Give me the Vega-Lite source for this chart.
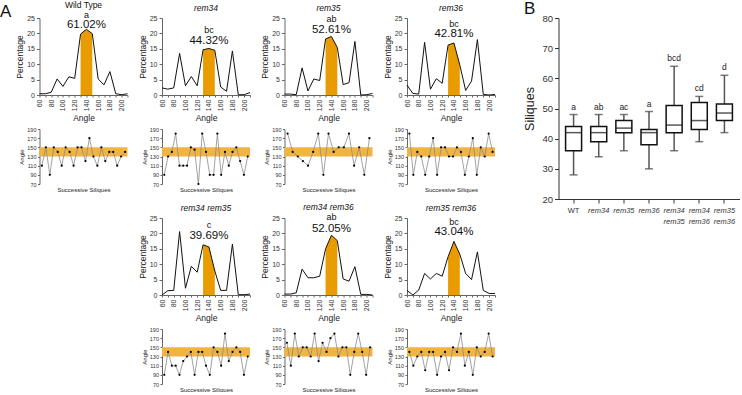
{
  "$schema": "https://vega.github.io/schema/vega-lite/v6.json",
  "padding": 0,
  "background": "white",
  "columns": 6,
  "bounds": "flush",
  "align": "none",
  "spacing": {"row": 34, "column": 34.5},
  "config": {
    "font": "Liberation Sans",
    "view": {"stroke": null},
    "axis": {"grid": false, "domainColor": "#666", "tickColor": "#666", "labelColor": "#333", "titleColor": "#222", "titleFontWeight": "normal", "labelOverlap": false},
    "title": {"fontSize": 8.5, "fontWeight": "normal", "color": "#111", "offset": 1.5, "fontStyle": "italic"}
  },
  "datasets": {
    "hist": [
      {"g":"WT","a":60,"p":0.4},{"g":"WT","a":70,"p":0.4},{"g":"WT","a":80,"p":0.9},{"g":"WT","a":90,"p":5.2},{"g":"WT","a":100,"p":2.8},{"g":"WT","a":110,"p":5.9},{"g":"WT","a":120,"p":5.4},{"g":"WT","a":130,"p":19.8},{"g":"WT","a":140,"p":21.32},{"g":"WT","a":150,"p":19.9},{"g":"WT","a":160,"p":5.2},{"g":"WT","a":170,"p":3.3},{"g":"WT","a":180,"p":7.6},{"g":"WT","a":190,"p":0.4},{"g":"WT","a":200,"p":0.1},{"g":"WT","a":210,"p":0.4},
      {"g":"34","a":60,"p":2.3},{"g":"34","a":70,"p":1.9},{"g":"34","a":80,"p":2.3},{"g":"34","a":90,"p":13.5},{"g":"34","a":100,"p":3.0},{"g":"34","a":110,"p":6.0},{"g":"34","a":120,"p":3.0},{"g":"34","a":130,"p":14.7},{"g":"34","a":140,"p":15.1},{"g":"34","a":150,"p":14.52},{"g":"34","a":160,"p":2.6},{"g":"34","a":170,"p":1.2},{"g":"34","a":180,"p":14.3},{"g":"34","a":190,"p":0.1},{"g":"34","a":200,"p":0.1},{"g":"34","a":210,"p":0.8},
      {"g":"35","a":60,"p":0.3},{"g":"35","a":70,"p":0.3},{"g":"35","a":80,"p":0.1},{"g":"35","a":90,"p":8.8},{"g":"35","a":100,"p":1.3},{"g":"35","a":110,"p":5.2},{"g":"35","a":120,"p":4.7},{"g":"35","a":130,"p":18.2},{"g":"35","a":140,"p":19.0},{"g":"35","a":150,"p":15.41},{"g":"35","a":160,"p":3.4},{"g":"35","a":170,"p":4.0},{"g":"35","a":180,"p":17.4},{"g":"35","a":190,"p":0.0},{"g":"35","a":200,"p":0.1},{"g":"35","a":210,"p":0.5},
      {"g":"36","a":60,"p":3.2},{"g":"36","a":70,"p":0.5},{"g":"36","a":80,"p":0.3},{"g":"36","a":90,"p":17.1},{"g":"36","a":100,"p":1.9},{"g":"36","a":110,"p":5.3},{"g":"36","a":120,"p":3.8},{"g":"36","a":130,"p":16.2},{"g":"36","a":140,"p":16.9},{"g":"36","a":150,"p":9.71},{"g":"36","a":160,"p":1.5},{"g":"36","a":170,"p":4.5},{"g":"36","a":180,"p":18.0},{"g":"36","a":190,"p":0.2},{"g":"36","a":200,"p":0.0},{"g":"36","a":210,"p":0.2},
      {"g":"3435","a":60,"p":0.0},{"g":"3435","a":70,"p":1.4},{"g":"3435","a":80,"p":1.5},{"g":"3435","a":90,"p":20.6},{"g":"3435","a":100,"p":2.2},{"g":"3435","a":110,"p":9.3},{"g":"3435","a":120,"p":7.4},{"g":"3435","a":130,"p":16.3},{"g":"3435","a":140,"p":15.6},{"g":"3435","a":150,"p":7.79},{"g":"3435","a":160,"p":1.5},{"g":"3435","a":170,"p":1.5},{"g":"3435","a":180,"p":16.5},{"g":"3435","a":190,"p":0.1},{"g":"3435","a":200,"p":0.1},{"g":"3435","a":210,"p":0.3},
      {"g":"3436","a":60,"p":0.3},{"g":"3436","a":70,"p":0.3},{"g":"3436","a":80,"p":0.7},{"g":"3436","a":90,"p":8.4},{"g":"3436","a":100,"p":5.6},{"g":"3436","a":110,"p":5.6},{"g":"3436","a":120,"p":6.1},{"g":"3436","a":130,"p":15.0},{"g":"3436","a":140,"p":19.4},{"g":"3436","a":150,"p":17.65},{"g":"3436","a":160,"p":5.2},{"g":"3436","a":170,"p":4.5},{"g":"3436","a":180,"p":9.2},{"g":"3436","a":190,"p":0.2},{"g":"3436","a":200,"p":0.2},{"g":"3436","a":210,"p":0.0},
      {"g":"3536","a":60,"p":1.5},{"g":"3536","a":70,"p":0.0},{"g":"3536","a":80,"p":1.6},{"g":"3536","a":90,"p":7.0},{"g":"3536","a":100,"p":5.2},{"g":"3536","a":110,"p":7.0},{"g":"3536","a":120,"p":6.1},{"g":"3536","a":130,"p":12.4},{"g":"3536","a":140,"p":17.4},{"g":"3536","a":150,"p":13.24},{"g":"3536","a":160,"p":7.0},{"g":"3536","a":170,"p":5.0},{"g":"3536","a":180,"p":14.0},{"g":"3536","a":190,"p":1.5},{"g":"3536","a":200,"p":0.5},{"g":"3536","a":210,"p":0.5}
    ],
    "lab": [
      {"g":"WT","k":"l","a":140,"p":26.0,"t":"a"},{"g":"WT","k":"v","a":140,"p":22.6,"t":"61.02%"},
      {"g":"34","k":"l","a":140,"p":21.0,"t":"bc"},{"g":"34","k":"v","a":140,"p":17.5,"t":"44.32%"},
      {"g":"35","k":"l","a":140,"p":24.7,"t":"ab"},{"g":"35","k":"v","a":140,"p":21.2,"t":"52.61%"},
      {"g":"36","k":"l","a":140,"p":23.2,"t":"bc"},{"g":"36","k":"v","a":140,"p":19.7,"t":"42.81%"},
      {"g":"3435","k":"l","a":140,"p":22.8,"t":"c"},{"g":"3435","k":"v","a":140,"p":19.3,"t":"39.69%"},
      {"g":"3436","k":"l","a":140,"p":25.3,"t":"ab"},{"g":"3436","k":"v","a":140,"p":21.5,"t":"52.05%"},
      {"g":"3536","k":"l","a":140,"p":23.8,"t":"bc"},{"g":"3536","k":"v","a":140,"p":20.3,"t":"43.04%"}
    ],
    "scat": [
      {"g":"WT","i":1,"v":110},{"g":"WT","i":2,"v":150},{"g":"WT","i":3,"v":90},{"g":"WT","i":4,"v":150},{"g":"WT","i":5,"v":140},{"g":"WT","i":6,"v":110},{"g":"WT","i":7,"v":150},{"g":"WT","i":8,"v":140},{"g":"WT","i":9,"v":110},{"g":"WT","i":10,"v":150},{"g":"WT","i":11,"v":150},{"g":"WT","i":12,"v":120},{"g":"WT","i":13,"v":170},{"g":"WT","i":14,"v":130},{"g":"WT","i":15,"v":110},{"g":"WT","i":16,"v":150},{"g":"WT","i":17,"v":120},{"g":"WT","i":18,"v":140},{"g":"WT","i":19,"v":140},{"g":"WT","i":20,"v":110},{"g":"WT","i":21,"v":130},{"g":"WT","i":22,"v":140},
      {"g":"34","i":1,"v":90},{"g":"34","i":2,"v":130},{"g":"34","i":3,"v":140},{"g":"34","i":4,"v":180},{"g":"34","i":5,"v":110},{"g":"34","i":6,"v":110},{"g":"34","i":7,"v":110},{"g":"34","i":8,"v":150},{"g":"34","i":9,"v":145},{"g":"34","i":10,"v":70},{"g":"34","i":11,"v":180},{"g":"34","i":12,"v":140},{"g":"34","i":13,"v":90},{"g":"34","i":14,"v":90},{"g":"34","i":15,"v":180},{"g":"34","i":16,"v":90},{"g":"34","i":17,"v":140},{"g":"34","i":18,"v":110},{"g":"34","i":19,"v":140},{"g":"34","i":20,"v":150},{"g":"34","i":21,"v":120},{"g":"34","i":22,"v":90},{"g":"34","i":23,"v":130},
      {"g":"35","i":1,"v":180},{"g":"35","i":2,"v":140},{"g":"35","i":3,"v":130},{"g":"35","i":4,"v":120},{"g":"35","i":5,"v":110},{"g":"35","i":6,"v":140},{"g":"35","i":7,"v":180},{"g":"35","i":8,"v":90},{"g":"35","i":9,"v":180},{"g":"35","i":10,"v":140},{"g":"35","i":11,"v":150},{"g":"35","i":12,"v":150},{"g":"35","i":13,"v":180},{"g":"35","i":14,"v":110},{"g":"35","i":15,"v":150},{"g":"35","i":16,"v":90},{"g":"35","i":17,"v":170},
      {"g":"36","i":1,"v":180},{"g":"36","i":2,"v":90},{"g":"36","i":3,"v":140},{"g":"36","i":4,"v":130},{"g":"36","i":5,"v":90},{"g":"36","i":6,"v":130},{"g":"36","i":7,"v":170},{"g":"36","i":8,"v":90},{"g":"36","i":9,"v":150},{"g":"36","i":10,"v":150},{"g":"36","i":11,"v":130},{"g":"36","i":12,"v":130},{"g":"36","i":13,"v":150},{"g":"36","i":14,"v":140},{"g":"36","i":15,"v":90},{"g":"36","i":16,"v":130},{"g":"36","i":17,"v":170},{"g":"36","i":18,"v":90},{"g":"36","i":19,"v":150},{"g":"36","i":20,"v":130},{"g":"36","i":21,"v":180},{"g":"36","i":22,"v":140},
      {"g":"3435","i":1,"v":90},{"g":"3435","i":2,"v":140},{"g":"3435","i":3,"v":110},{"g":"3435","i":4,"v":110},{"g":"3435","i":5,"v":90},{"g":"3435","i":6,"v":120},{"g":"3435","i":7,"v":130},{"g":"3435","i":8,"v":140},{"g":"3435","i":9,"v":90},{"g":"3435","i":10,"v":140},{"g":"3435","i":11,"v":140},{"g":"3435","i":12,"v":110},{"g":"3435","i":13,"v":90},{"g":"3435","i":14,"v":150},{"g":"3435","i":15,"v":140},{"g":"3435","i":16,"v":110},{"g":"3435","i":17,"v":180},{"g":"3435","i":18,"v":120},{"g":"3435","i":19,"v":140},{"g":"3435","i":20,"v":150},{"g":"3435","i":21,"v":140},{"g":"3435","i":22,"v":90},{"g":"3435","i":23,"v":130},
      {"g":"3436","i":1,"v":160},{"g":"3436","i":2,"v":110},{"g":"3436","i":3,"v":180},{"g":"3436","i":4,"v":130},{"g":"3436","i":5,"v":150},{"g":"3436","i":6,"v":150},{"g":"3436","i":7,"v":130},{"g":"3436","i":8,"v":180},{"g":"3436","i":9,"v":120},{"g":"3436","i":10,"v":160},{"g":"3436","i":11,"v":140},{"g":"3436","i":12,"v":170},{"g":"3436","i":13,"v":180},{"g":"3436","i":14,"v":130},{"g":"3436","i":15,"v":150},{"g":"3436","i":16,"v":150},{"g":"3436","i":17,"v":90},{"g":"3436","i":18,"v":140},{"g":"3436","i":19,"v":180},{"g":"3436","i":20,"v":140},{"g":"3436","i":21,"v":90},{"g":"3436","i":22,"v":150},
      {"g":"3536","i":1,"v":140},{"g":"3536","i":2,"v":110},{"g":"3536","i":3,"v":130},{"g":"3536","i":4,"v":140},{"g":"3536","i":5,"v":100},{"g":"3536","i":6,"v":140},{"g":"3536","i":7,"v":140},{"g":"3536","i":8,"v":90},{"g":"3536","i":9,"v":130},{"g":"3536","i":10,"v":140},{"g":"3536","i":11,"v":100},{"g":"3536","i":12,"v":150},{"g":"3536","i":13,"v":140},{"g":"3536","i":14,"v":180},{"g":"3536","i":15,"v":110},{"g":"3536","i":16,"v":140},{"g":"3536","i":17,"v":90},{"g":"3536","i":18,"v":150},{"g":"3536","i":19,"v":130},{"g":"3536","i":20,"v":140},{"g":"3536","i":21,"v":180},{"g":"3536","i":22,"v":130}
    ],
    "box": [
      {"g":"WT","min":28,"q1":36,"med":42,"q3":44,"max":48,"lab":"a"},
      {"g":"rem34","min":34,"q1":39,"med":42,"q3":44,"max":48,"lab":"ab"},
      {"g":"rem35","min":36,"q1":42,"med":43.5,"q3":46,"max":48,"lab":"ac"},
      {"g":"rem36","min":30,"q1":38,"med":42,"q3":43,"max":49,"lab":"a"},
      {"g":"rem34 rem35","min":36,"q1":42,"med":44.5,"q3":51,"max":64,"lab":"bcd"},
      {"g":"rem34 rem36","min":39,"q1":43,"med":46,"q3":52,"max":54,"lab":"cd"},
      {"g":"rem35 rem36","min":42,"q1":46,"med":48.5,"q3":51.5,"max":61,"lab":"d"}
    ]
  },
  "concat": [
    {"width": 4.5, "height": 1, "title": {"text": "A", "anchor": "start", "fontSize": 17, "fontStyle": "normal", "offset": -3}, "data": {"values": []}, "mark": "text", "encoding": {}},
    {
      "width": 88, "height": 77,
      "title": {"text": "Wild Type", "fontStyle": "normal"},
      "encoding": {
        "x": {"field": "a", "type": "quantitative", "scale": {"domain": [60, 210]}, "axis": {"title": "Angle", "values": [60,70,80,90,100,110,120,130,140,150,160,170,180,190,200,210], "labelExpr": "datum.value % 20 == 0 && datum.value < 210 ? datum.label : ''", "labelAngle": -90, "labelFontSize": 7, "labelPadding": 2, "tickSize": 2, "titleFontSize": 8.5, "titlePadding": 3}},
        "y": {"field": "p", "type": "quantitative", "scale": {"domain": [0, 25]}, "axis": {"title": "Percentage", "values": [0,5,10,15,20,25], "tickSize": 3, "labelFontSize": 7, "labelPadding": 2, "titleFontSize": 8.5, "titlePadding": 2}}
      },
      "layer": [
        {"data": {"name": "hist"}, "transform": [{"filter": "datum.g == 'WT' && datum.a >= 130 && datum.a <= 150"}], "mark": {"type": "area", "color": "#e89c00"}},
        {"data": {"name": "hist"}, "transform": [{"filter": "datum.g == 'WT'"}], "mark": {"type": "line", "color": "#111", "strokeWidth": 1}},
        {"data": {"name": "lab"}, "transform": [{"filter": "datum.g == 'WT' && datum.k == 'l'"}], "mark": {"type": "text", "fontSize": 9, "color": "#111"}, "encoding": {"text": {"field": "t"}}},
        {"data": {"name": "lab"}, "transform": [{"filter": "datum.g == 'WT' && datum.k == 'v'"}], "mark": {"type": "text", "fontSize": 11.5, "color": "#111"}, "encoding": {"text": {"field": "t"}}}
      ]
    },
    {
      "width": 88, "height": 77,
      "title": {"text": "rem34"},
      "encoding": {
        "x": {"field": "a", "type": "quantitative", "scale": {"domain": [60, 210]}, "axis": {"title": "Angle", "values": [60,70,80,90,100,110,120,130,140,150,160,170,180,190,200,210], "labelExpr": "datum.value % 20 == 0 && datum.value < 210 ? datum.label : ''", "labelAngle": -90, "labelFontSize": 7, "labelPadding": 2, "tickSize": 2, "titleFontSize": 8.5, "titlePadding": 3}},
        "y": {"field": "p", "type": "quantitative", "scale": {"domain": [0, 25]}, "axis": {"title": "Percentage", "values": [0,5,10,15,20,25], "tickSize": 3, "labelFontSize": 7, "labelPadding": 2, "titleFontSize": 8.5, "titlePadding": 2}}
      },
      "layer": [
        {"data": {"name": "hist"}, "transform": [{"filter": "datum.g == '34' && datum.a >= 130 && datum.a <= 150"}], "mark": {"type": "area", "color": "#e89c00"}},
        {"data": {"name": "hist"}, "transform": [{"filter": "datum.g == '34'"}], "mark": {"type": "line", "color": "#111", "strokeWidth": 1}},
        {"data": {"name": "lab"}, "transform": [{"filter": "datum.g == '34' && datum.k == 'l'"}], "mark": {"type": "text", "fontSize": 9, "color": "#111"}, "encoding": {"text": {"field": "t"}}},
        {"data": {"name": "lab"}, "transform": [{"filter": "datum.g == '34' && datum.k == 'v'"}], "mark": {"type": "text", "fontSize": 11.5, "color": "#111"}, "encoding": {"text": {"field": "t"}}}
      ]
    },
    {
      "width": 88, "height": 77,
      "title": {"text": "rem35"},
      "encoding": {
        "x": {"field": "a", "type": "quantitative", "scale": {"domain": [60, 210]}, "axis": {"title": "Angle", "values": [60,70,80,90,100,110,120,130,140,150,160,170,180,190,200,210], "labelExpr": "datum.value % 20 == 0 && datum.value < 210 ? datum.label : ''", "labelAngle": -90, "labelFontSize": 7, "labelPadding": 2, "tickSize": 2, "titleFontSize": 8.5, "titlePadding": 3}},
        "y": {"field": "p", "type": "quantitative", "scale": {"domain": [0, 25]}, "axis": {"title": "Percentage", "values": [0,5,10,15,20,25], "tickSize": 3, "labelFontSize": 7, "labelPadding": 2, "titleFontSize": 8.5, "titlePadding": 2}}
      },
      "layer": [
        {"data": {"name": "hist"}, "transform": [{"filter": "datum.g == '35' && datum.a >= 130 && datum.a <= 150"}], "mark": {"type": "area", "color": "#e89c00"}},
        {"data": {"name": "hist"}, "transform": [{"filter": "datum.g == '35'"}], "mark": {"type": "line", "color": "#111", "strokeWidth": 1}},
        {"data": {"name": "lab"}, "transform": [{"filter": "datum.g == '35' && datum.k == 'l'"}], "mark": {"type": "text", "fontSize": 9, "color": "#111"}, "encoding": {"text": {"field": "t"}}},
        {"data": {"name": "lab"}, "transform": [{"filter": "datum.g == '35' && datum.k == 'v'"}], "mark": {"type": "text", "fontSize": 11.5, "color": "#111"}, "encoding": {"text": {"field": "t"}}}
      ]
    },
    {
      "width": 88, "height": 77,
      "title": {"text": "rem36"},
      "encoding": {
        "x": {"field": "a", "type": "quantitative", "scale": {"domain": [60, 210]}, "axis": {"title": "Angle", "values": [60,70,80,90,100,110,120,130,140,150,160,170,180,190,200,210], "labelExpr": "datum.value % 20 == 0 && datum.value < 210 ? datum.label : ''", "labelAngle": -90, "labelFontSize": 7, "labelPadding": 2, "tickSize": 2, "titleFontSize": 8.5, "titlePadding": 3}},
        "y": {"field": "p", "type": "quantitative", "scale": {"domain": [0, 25]}, "axis": {"title": "Percentage", "values": [0,5,10,15,20,25], "tickSize": 3, "labelFontSize": 7, "labelPadding": 2, "titleFontSize": 8.5, "titlePadding": 2}}
      },
      "layer": [
        {"data": {"name": "hist"}, "transform": [{"filter": "datum.g == '36' && datum.a >= 130 && datum.a <= 150"}], "mark": {"type": "area", "color": "#e89c00"}},
        {"data": {"name": "hist"}, "transform": [{"filter": "datum.g == '36'"}], "mark": {"type": "line", "color": "#111", "strokeWidth": 1}},
        {"data": {"name": "lab"}, "transform": [{"filter": "datum.g == '36' && datum.k == 'l'"}], "mark": {"type": "text", "fontSize": 9, "color": "#111"}, "encoding": {"text": {"field": "t"}}},
        {"data": {"name": "lab"}, "transform": [{"filter": "datum.g == '36' && datum.k == 'v'"}], "mark": {"type": "text", "fontSize": 11.5, "color": "#111"}, "encoding": {"text": {"field": "t"}}}
      ]
    },
    {
      "width": 210, "height": 77,
      "title": {"text": "B", "anchor": "start", "fontSize": 17, "fontStyle": "normal", "offset": -5},
      "data": {"name": "box"},
      "encoding": {
        "x": {"field": "g", "type": "nominal", "sort": null, "scale": {"range": [29, 210], "paddingInner": 0.1, "paddingOuter": 0.15},
              "axis": {"title": null, "offset": 104, "labelExpr": "split(datum.value, ' ')", "labelAngle": 0, "labelFontSize": 7.5, "labelLineHeight": 11, "labelFontStyle": {"condition": {"test": "datum.value == 'WT'", "value": "normal"}, "value": "italic"}, "tickSize": 4, "labelPadding": 3, "domainColor": "#333", "tickColor": "#333"}}
      },
      "layer": [
        {"mark": {"type": "rule", "color": "#555", "strokeWidth": 1.5},
         "encoding": {"y": {"field": "min", "type": "quantitative", "title": "Siliques", "scale": {"domain": [20, 80], "zero": false, "nice": false, "range": [181, 0]},
                            "axis": {"values": [20,30,40,50,60,70,80], "tickCount": 7, "offset": -29, "labelFontSize": 9.5, "titleFontSize": 12.5, "tickSize": 4, "titlePadding": 5, "domainColor": "#333", "tickColor": "#333", "labelOverlap": false}},
                      "y2": {"field": "max"}}},
        {"mark": {"type": "bar", "fill": "white", "stroke": "#111", "strokeWidth": 1.5, "size": 16},
         "encoding": {"y": {"field": "q1", "type": "quantitative", "title": "Siliques", "scale": {"domain": [20, 80], "zero": false, "nice": false, "range": [181, 0]},
                            "axis": {"values": [20,30,40,50,60,70,80], "tickCount": 7, "offset": -29, "labelFontSize": 9.5, "titleFontSize": 12.5, "tickSize": 4, "titlePadding": 5, "domainColor": "#333", "tickColor": "#333", "labelOverlap": false}},
                      "y2": {"field": "q3"}}},
        {"mark": {"type": "tick", "color": "#111", "size": 16, "thickness": 1.5},
         "encoding": {"y": {"field": "med", "type": "quantitative", "title": "Siliques", "scale": {"domain": [20, 80], "zero": false, "nice": false, "range": [181, 0]},
                            "axis": {"values": [20,30,40,50,60,70,80], "tickCount": 7, "offset": -29, "labelFontSize": 9.5, "titleFontSize": 12.5, "tickSize": 4, "titlePadding": 5, "domainColor": "#333", "tickColor": "#333", "labelOverlap": false}}}},
        {"mark": {"type": "tick", "color": "#444", "size": 8, "thickness": 1.5},
         "encoding": {"y": {"field": "min", "type": "quantitative", "title": "Siliques", "scale": {"domain": [20, 80], "zero": false, "nice": false, "range": [181, 0]},
                            "axis": {"values": [20,30,40,50,60,70,80], "tickCount": 7, "offset": -29, "labelFontSize": 9.5, "titleFontSize": 12.5, "tickSize": 4, "titlePadding": 5, "domainColor": "#333", "tickColor": "#333", "labelOverlap": false}}}},
        {"mark": {"type": "tick", "color": "#444", "size": 8, "thickness": 1.5},
         "encoding": {"y": {"field": "max", "type": "quantitative", "title": "Siliques", "scale": {"domain": [20, 80], "zero": false, "nice": false, "range": [181, 0]},
                            "axis": {"values": [20,30,40,50,60,70,80], "tickCount": 7, "offset": -29, "labelFontSize": 9.5, "titleFontSize": 12.5, "tickSize": 4, "titlePadding": 5, "domainColor": "#333", "tickColor": "#333", "labelOverlap": false}}}},
        {"mark": {"type": "text", "fontSize": 8.5, "baseline": "bottom", "dy": -3, "color": "#222"},
         "encoding": {"y": {"field": "max", "type": "quantitative", "title": "Siliques", "scale": {"domain": [20, 80], "zero": false, "nice": false, "range": [181, 0]},
                            "axis": {"values": [20,30,40,50,60,70,80], "tickCount": 7, "offset": -29, "labelFontSize": 9.5, "titleFontSize": 12.5, "tickSize": 4, "titlePadding": 5, "domainColor": "#333", "tickColor": "#333", "labelOverlap": false}},
                      "text": {"field": "lab"}}}
      ]
    },

    {"width": 4.5, "height": 1, "data": {"values": []}, "mark": "text", "encoding": {}},
    {
      "width": 88, "height": 55,
      "encoding": {"y": {"field": "v", "type": "quantitative", "scale": {"domain": [70, 190]}, "axis": {"title": "Angle", "values": [70,90,110,130,150,170,190], "labelFontSize": 5.5, "titleFontSize": 6, "tickSize": 2, "labelPadding": 1.5, "titlePadding": 2}}},
      "layer": [
        {"data": {"values": [{"v": 130, "v2": 150}]}, "mark": {"type": "rect", "color": "#f2b441"}, "encoding": {"y2": {"field": "v2"}}},
        {"data": {"name": "scat"}, "transform": [{"filter": "datum.g == 'WT'"}], "mark": {"type": "line", "color": "#8a8a8a", "strokeWidth": 0.8},
         "encoding": {"x": {"field": "i", "type": "quantitative", "scale": {"domain": [0.4, 22.6]}, "axis": {"title": "Successive Siliques", "labels": false, "ticks": false, "domain": false, "titleFontSize": 6, "titlePadding": 2}}}},
        {"data": {"name": "scat"}, "transform": [{"filter": "datum.g == 'WT'"}], "mark": {"type": "point", "filled": true, "color": "#000", "size": 5, "opacity": 1},
         "encoding": {"x": {"field": "i", "type": "quantitative", "scale": {"domain": [0.4, 22.6]}}}}
      ]
    },
    {
      "width": 88, "height": 55,
      "encoding": {"y": {"field": "v", "type": "quantitative", "scale": {"domain": [70, 190]}, "axis": {"title": "Angle", "values": [70,90,110,130,150,170,190], "labelFontSize": 5.5, "titleFontSize": 6, "tickSize": 2, "labelPadding": 1.5, "titlePadding": 2}}},
      "layer": [
        {"data": {"values": [{"v": 130, "v2": 150}]}, "mark": {"type": "rect", "color": "#f2b441"}, "encoding": {"y2": {"field": "v2"}}},
        {"data": {"name": "scat"}, "transform": [{"filter": "datum.g == '34'"}], "mark": {"type": "line", "color": "#8a8a8a", "strokeWidth": 0.8},
         "encoding": {"x": {"field": "i", "type": "quantitative", "scale": {"domain": [0.4, 23.6]}, "axis": {"title": "Successive Siliques", "labels": false, "ticks": false, "domain": false, "titleFontSize": 6, "titlePadding": 2}}}},
        {"data": {"name": "scat"}, "transform": [{"filter": "datum.g == '34'"}], "mark": {"type": "point", "filled": true, "color": "#000", "size": 5, "opacity": 1},
         "encoding": {"x": {"field": "i", "type": "quantitative", "scale": {"domain": [0.4, 23.6]}}}}
      ]
    },
    {
      "width": 88, "height": 55,
      "encoding": {"y": {"field": "v", "type": "quantitative", "scale": {"domain": [70, 190]}, "axis": {"title": "Angle", "values": [70,90,110,130,150,170,190], "labelFontSize": 5.5, "titleFontSize": 6, "tickSize": 2, "labelPadding": 1.5, "titlePadding": 2}}},
      "layer": [
        {"data": {"values": [{"v": 130, "v2": 150}]}, "mark": {"type": "rect", "color": "#f2b441"}, "encoding": {"y2": {"field": "v2"}}},
        {"data": {"name": "scat"}, "transform": [{"filter": "datum.g == '35'"}], "mark": {"type": "line", "color": "#8a8a8a", "strokeWidth": 0.8},
         "encoding": {"x": {"field": "i", "type": "quantitative", "scale": {"domain": [0.4, 17.6]}, "axis": {"title": "Successive Siliques", "labels": false, "ticks": false, "domain": false, "titleFontSize": 6, "titlePadding": 2}}}},
        {"data": {"name": "scat"}, "transform": [{"filter": "datum.g == '35'"}], "mark": {"type": "point", "filled": true, "color": "#000", "size": 5, "opacity": 1},
         "encoding": {"x": {"field": "i", "type": "quantitative", "scale": {"domain": [0.4, 17.6]}}}}
      ]
    },
    {
      "width": 88, "height": 55,
      "encoding": {"y": {"field": "v", "type": "quantitative", "scale": {"domain": [70, 190]}, "axis": {"title": "Angle", "values": [70,90,110,130,150,170,190], "labelFontSize": 5.5, "titleFontSize": 6, "tickSize": 2, "labelPadding": 1.5, "titlePadding": 2}}},
      "layer": [
        {"data": {"values": [{"v": 130, "v2": 150}]}, "mark": {"type": "rect", "color": "#f2b441"}, "encoding": {"y2": {"field": "v2"}}},
        {"data": {"name": "scat"}, "transform": [{"filter": "datum.g == '36'"}], "mark": {"type": "line", "color": "#8a8a8a", "strokeWidth": 0.8},
         "encoding": {"x": {"field": "i", "type": "quantitative", "scale": {"domain": [0.4, 22.6]}, "axis": {"title": "Successive Siliques", "labels": false, "ticks": false, "domain": false, "titleFontSize": 6, "titlePadding": 2}}}},
        {"data": {"name": "scat"}, "transform": [{"filter": "datum.g == '36'"}], "mark": {"type": "point", "filled": true, "color": "#000", "size": 5, "opacity": 1},
         "encoding": {"x": {"field": "i", "type": "quantitative", "scale": {"domain": [0.4, 22.6]}}}}
      ]
    },
    {"width": 10, "height": 1, "data": {"values": []}, "mark": "text", "encoding": {}},

    {"width": 4.5, "height": 1, "data": {"values": []}, "mark": "text", "encoding": {}},
    {"width": 88, "height": 1, "data": {"values": []}, "mark": "text", "encoding": {}},
    {
      "width": 88, "height": 77,
      "title": {"text": "rem34 rem35"},
      "encoding": {
        "x": {"field": "a", "type": "quantitative", "scale": {"domain": [60, 210]}, "axis": {"title": "Angle", "values": [60,70,80,90,100,110,120,130,140,150,160,170,180,190,200,210], "labelExpr": "datum.value % 20 == 0 && datum.value < 210 ? datum.label : ''", "labelAngle": -90, "labelFontSize": 7, "labelPadding": 2, "tickSize": 2, "titleFontSize": 8.5, "titlePadding": 3}},
        "y": {"field": "p", "type": "quantitative", "scale": {"domain": [0, 25]}, "axis": {"title": "Percentage", "values": [0,5,10,15,20,25], "tickSize": 3, "labelFontSize": 7, "labelPadding": 2, "titleFontSize": 8.5, "titlePadding": 2}}
      },
      "layer": [
        {"data": {"name": "hist"}, "transform": [{"filter": "datum.g == '3435' && datum.a >= 130 && datum.a <= 150"}], "mark": {"type": "area", "color": "#e89c00"}},
        {"data": {"name": "hist"}, "transform": [{"filter": "datum.g == '3435'"}], "mark": {"type": "line", "color": "#111", "strokeWidth": 1}},
        {"data": {"name": "lab"}, "transform": [{"filter": "datum.g == '3435' && datum.k == 'l'"}], "mark": {"type": "text", "fontSize": 9, "color": "#111"}, "encoding": {"text": {"field": "t"}}},
        {"data": {"name": "lab"}, "transform": [{"filter": "datum.g == '3435' && datum.k == 'v'"}], "mark": {"type": "text", "fontSize": 11.5, "color": "#111"}, "encoding": {"text": {"field": "t"}}}
      ]
    },
    {
      "width": 88, "height": 77,
      "title": {"text": "rem34 rem36"},
      "encoding": {
        "x": {"field": "a", "type": "quantitative", "scale": {"domain": [60, 210]}, "axis": {"title": "Angle", "values": [60,70,80,90,100,110,120,130,140,150,160,170,180,190,200,210], "labelExpr": "datum.value % 20 == 0 && datum.value < 210 ? datum.label : ''", "labelAngle": -90, "labelFontSize": 7, "labelPadding": 2, "tickSize": 2, "titleFontSize": 8.5, "titlePadding": 3}},
        "y": {"field": "p", "type": "quantitative", "scale": {"domain": [0, 25]}, "axis": {"title": "Percentage", "values": [0,5,10,15,20,25], "tickSize": 3, "labelFontSize": 7, "labelPadding": 2, "titleFontSize": 8.5, "titlePadding": 2}}
      },
      "layer": [
        {"data": {"name": "hist"}, "transform": [{"filter": "datum.g == '3436' && datum.a >= 130 && datum.a <= 150"}], "mark": {"type": "area", "color": "#e89c00"}},
        {"data": {"name": "hist"}, "transform": [{"filter": "datum.g == '3436'"}], "mark": {"type": "line", "color": "#111", "strokeWidth": 1}},
        {"data": {"name": "lab"}, "transform": [{"filter": "datum.g == '3436' && datum.k == 'l'"}], "mark": {"type": "text", "fontSize": 9, "color": "#111"}, "encoding": {"text": {"field": "t"}}},
        {"data": {"name": "lab"}, "transform": [{"filter": "datum.g == '3436' && datum.k == 'v'"}], "mark": {"type": "text", "fontSize": 11.5, "color": "#111"}, "encoding": {"text": {"field": "t"}}}
      ]
    },
    {
      "width": 88, "height": 77,
      "title": {"text": "rem35 rem36"},
      "encoding": {
        "x": {"field": "a", "type": "quantitative", "scale": {"domain": [60, 210]}, "axis": {"title": "Angle", "values": [60,70,80,90,100,110,120,130,140,150,160,170,180,190,200,210], "labelExpr": "datum.value % 20 == 0 && datum.value < 210 ? datum.label : ''", "labelAngle": -90, "labelFontSize": 7, "labelPadding": 2, "tickSize": 2, "titleFontSize": 8.5, "titlePadding": 3}},
        "y": {"field": "p", "type": "quantitative", "scale": {"domain": [0, 25]}, "axis": {"title": "Percentage", "values": [0,5,10,15,20,25], "tickSize": 3, "labelFontSize": 7, "labelPadding": 2, "titleFontSize": 8.5, "titlePadding": 2}}
      },
      "layer": [
        {"data": {"name": "hist"}, "transform": [{"filter": "datum.g == '3536' && datum.a >= 130 && datum.a <= 150"}], "mark": {"type": "area", "color": "#e89c00"}},
        {"data": {"name": "hist"}, "transform": [{"filter": "datum.g == '3536'"}], "mark": {"type": "line", "color": "#111", "strokeWidth": 1}},
        {"data": {"name": "lab"}, "transform": [{"filter": "datum.g == '3536' && datum.k == 'l'"}], "mark": {"type": "text", "fontSize": 9, "color": "#111"}, "encoding": {"text": {"field": "t"}}},
        {"data": {"name": "lab"}, "transform": [{"filter": "datum.g == '3536' && datum.k == 'v'"}], "mark": {"type": "text", "fontSize": 11.5, "color": "#111"}, "encoding": {"text": {"field": "t"}}}
      ]
    },
    {"width": 10, "height": 1, "data": {"values": []}, "mark": "text", "encoding": {}},

    {"width": 4.5, "height": 1, "data": {"values": []}, "mark": "text", "encoding": {}},
    {"width": 88, "height": 1, "data": {"values": []}, "mark": "text", "encoding": {}},
    {
      "width": 88, "height": 55,
      "encoding": {"y": {"field": "v", "type": "quantitative", "scale": {"domain": [70, 190]}, "axis": {"title": "Angle", "values": [70,90,110,130,150,170,190], "labelFontSize": 5.5, "titleFontSize": 6, "tickSize": 2, "labelPadding": 1.5, "titlePadding": 2}}},
      "layer": [
        {"data": {"values": [{"v": 130, "v2": 150}]}, "mark": {"type": "rect", "color": "#f2b441"}, "encoding": {"y2": {"field": "v2"}}},
        {"data": {"name": "scat"}, "transform": [{"filter": "datum.g == '3435'"}], "mark": {"type": "line", "color": "#8a8a8a", "strokeWidth": 0.8},
         "encoding": {"x": {"field": "i", "type": "quantitative", "scale": {"domain": [0.4, 23.6]}, "axis": {"title": "Successive Siliques", "labels": false, "ticks": false, "domain": false, "titleFontSize": 6, "titlePadding": 2}}}},
        {"data": {"name": "scat"}, "transform": [{"filter": "datum.g == '3435'"}], "mark": {"type": "point", "filled": true, "color": "#000", "size": 5, "opacity": 1},
         "encoding": {"x": {"field": "i", "type": "quantitative", "scale": {"domain": [0.4, 23.6]}}}}
      ]
    },
    {
      "width": 88, "height": 55,
      "encoding": {"y": {"field": "v", "type": "quantitative", "scale": {"domain": [70, 190]}, "axis": {"title": "Angle", "values": [70,90,110,130,150,170,190], "labelFontSize": 5.5, "titleFontSize": 6, "tickSize": 2, "labelPadding": 1.5, "titlePadding": 2}}},
      "layer": [
        {"data": {"values": [{"v": 130, "v2": 150}]}, "mark": {"type": "rect", "color": "#f2b441"}, "encoding": {"y2": {"field": "v2"}}},
        {"data": {"name": "scat"}, "transform": [{"filter": "datum.g == '3436'"}], "mark": {"type": "line", "color": "#8a8a8a", "strokeWidth": 0.8},
         "encoding": {"x": {"field": "i", "type": "quantitative", "scale": {"domain": [0.4, 22.6]}, "axis": {"title": "Successive Siliques", "labels": false, "ticks": false, "domain": false, "titleFontSize": 6, "titlePadding": 2}}}},
        {"data": {"name": "scat"}, "transform": [{"filter": "datum.g == '3436'"}], "mark": {"type": "point", "filled": true, "color": "#000", "size": 5, "opacity": 1},
         "encoding": {"x": {"field": "i", "type": "quantitative", "scale": {"domain": [0.4, 22.6]}}}}
      ]
    },
    {
      "width": 88, "height": 55,
      "encoding": {"y": {"field": "v", "type": "quantitative", "scale": {"domain": [70, 190]}, "axis": {"title": "Angle", "values": [70,90,110,130,150,170,190], "labelFontSize": 5.5, "titleFontSize": 6, "tickSize": 2, "labelPadding": 1.5, "titlePadding": 2}}},
      "layer": [
        {"data": {"values": [{"v": 130, "v2": 150}]}, "mark": {"type": "rect", "color": "#f2b441"}, "encoding": {"y2": {"field": "v2"}}},
        {"data": {"name": "scat"}, "transform": [{"filter": "datum.g == '3536'"}], "mark": {"type": "line", "color": "#8a8a8a", "strokeWidth": 0.8},
         "encoding": {"x": {"field": "i", "type": "quantitative", "scale": {"domain": [0.4, 22.6]}, "axis": {"title": "Successive Siliques", "labels": false, "ticks": false, "domain": false, "titleFontSize": 6, "titlePadding": 2}}}},
        {"data": {"name": "scat"}, "transform": [{"filter": "datum.g == '3536'"}], "mark": {"type": "point", "filled": true, "color": "#000", "size": 5, "opacity": 1},
         "encoding": {"x": {"field": "i", "type": "quantitative", "scale": {"domain": [0.4, 22.6]}}}}
      ]
    }
  ]
}
